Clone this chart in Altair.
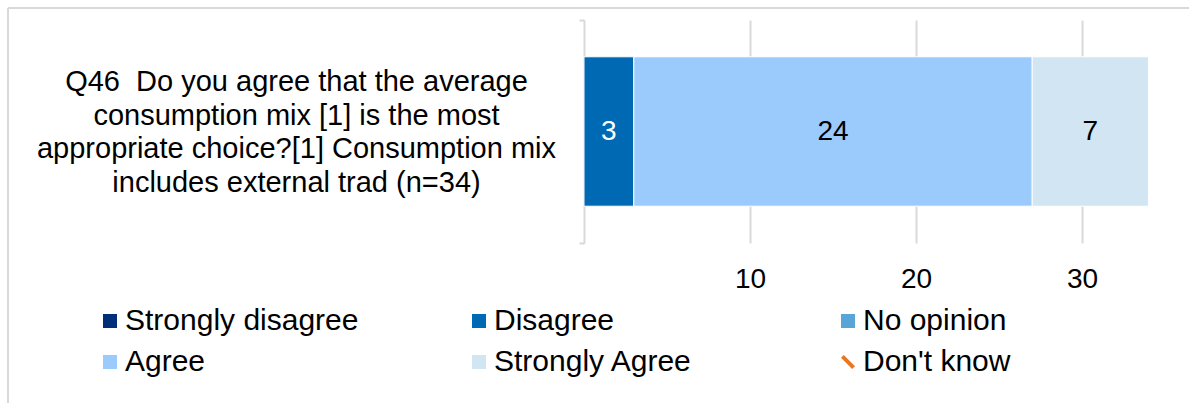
import altair as alt
import pandas as pd

# Survey question shown as the single bar's category label (one line per entry)
question_lines = [
    "Q46\u00a0 Do you agree that the average",
    "consumption mix [1] is the most",
    "appropriate choice?[1] Consumption mix",
    "includes external trad (n=34)",
]
responses = ["Strongly disagree", "Disagree", "No opinion",
             "Agree", "Strongly Agree", "Don't know"]
counts = [0, 3, 0, 24, 7, 0]
response_colors = ["#002F7A", "#0069B4", "#5AA5D8",
                   "#9ACBFC", "#D1E5F2", "#E87722"]
value_text_colors = ["white", "white", "black", "black", "black", "black"]
legend_shapes = ["square", "square", "square", "square", "square",
                 "M-1,-0.6 L-0.6,-1 L1,0.6 L0.6,1 Z"]
x_ticks = [10, 20, 30]
x_max = 35

FONT = "Liberation Sans"
GRID = "#D9D9D9"

question = "\n".join(question_lines)
df = pd.DataFrame({
    "question": [question] * len(responses),
    "response": responses,
    "count": counts,
    "order": list(range(len(responses))),
    "text_color": value_text_colors,
})

y_enc = alt.Y(
    "question:N",
    title=None,
    scale=alt.Scale(paddingInner=0, paddingOuter=0),
    axis=alt.Axis(
        domain=True, domainColor=GRID, domainWidth=2,
        ticks=True, tickBand="extent", tickSize=5, tickColor=GRID, tickWidth=2,
        labelExpr="split(datum.label, '\\n')",
        labelAlign="center", labelBaseline="middle",
        labelPadding=283, labelLineHeight=33.5, labelLimit=0,
        labelOffset=-50,
        labelFont=FONT, labelFontSize=29, labelColor="#000000",
        grid=False,
    ),
)
x_scale = alt.Scale(domain=[0, x_max], nice=False, zero=True)
color_scale = alt.Scale(domain=responses, range=response_colors)

bars = alt.Chart(df).transform_filter("datum.count > 0").mark_bar(
    stroke="white", strokeWidth=1, height=alt.RelativeBandSize(band=0.67)
).encode(
    x=alt.X(
        "sum(count):Q", title=None, scale=x_scale, stack="zero",
        axis=alt.Axis(
            values=x_ticks, grid=True, gridColor=GRID, gridWidth=2,
            domain=False, ticks=False, labelPadding=22,
            labelFont=FONT, labelFontSize=28, labelColor="#000000",
        ),
    ),
    y=y_enc,
    color=alt.Color("response:N", scale=color_scale, legend=alt.Legend(
        title=None, orient="none", legendX=-489, legendY=286,
        direction="horizontal", columns=3, gridAlign="all",
        columnPadding=105, rowPadding=11,
        symbolSize=196, symbolStrokeWidth=0, labelOffset=0,
        labelFont=FONT, labelFontSize=30, labelColor="#000000",
        labelLimit=0, padding=0,
    )),
    order=alt.Order("order:Q"),
)

# Invisible point layer that contributes the shape channel to the legend
legend_points = alt.Chart(df).transform_filter("datum.count < 0").mark_point(
    filled=True
).encode(
    x=alt.X("count:Q", scale=x_scale),
    y=y_enc,
    color=alt.Color("response:N", scale=color_scale),
    shape=alt.Shape("response:N",
                    scale=alt.Scale(domain=responses, range=legend_shapes)),
)

values = alt.Chart(df).transform_filter("datum.count > 0").transform_window(
    cum="sum(count)", sort=[alt.SortField("order", order="ascending")]
).transform_calculate(
    mid="datum.cum - datum.count / 2"
).mark_text(font=FONT, fontSize=28, baseline="middle", align="center").encode(
    x=alt.X("mid:Q", scale=x_scale),
    y=y_enc,
    text=alt.Text("count:Q"),
    fill=alt.Fill("text_color:N", scale=None, legend=None),
)

# Chart-area frame (top and left edges)
frame_df = pd.DataFrame({"edge": ["frame"]})
frame_top = alt.Chart(frame_df).mark_rule(color=GRID, strokeWidth=2).encode(
    x=alt.value(-576), x2=alt.value(605), y=alt.value(-12)
)
frame_left = alt.Chart(frame_df).mark_rule(color=GRID, strokeWidth=2).encode(
    x=alt.value(-576), y=alt.value(-12), y2=alt.value(383)
)

chart = alt.layer(
    frame_top, frame_left, bars, legend_points, values
).properties(
    width=581, height=223,
    padding={"left": 584, "top": 20, "right": 24, "bottom": 160},
    autosize=alt.AutoSizeParams(type="none"),
    background="white",
).configure_view(stroke=None)

chart.save("out.html", embed_options={"renderer": "svg", "actions": False})
